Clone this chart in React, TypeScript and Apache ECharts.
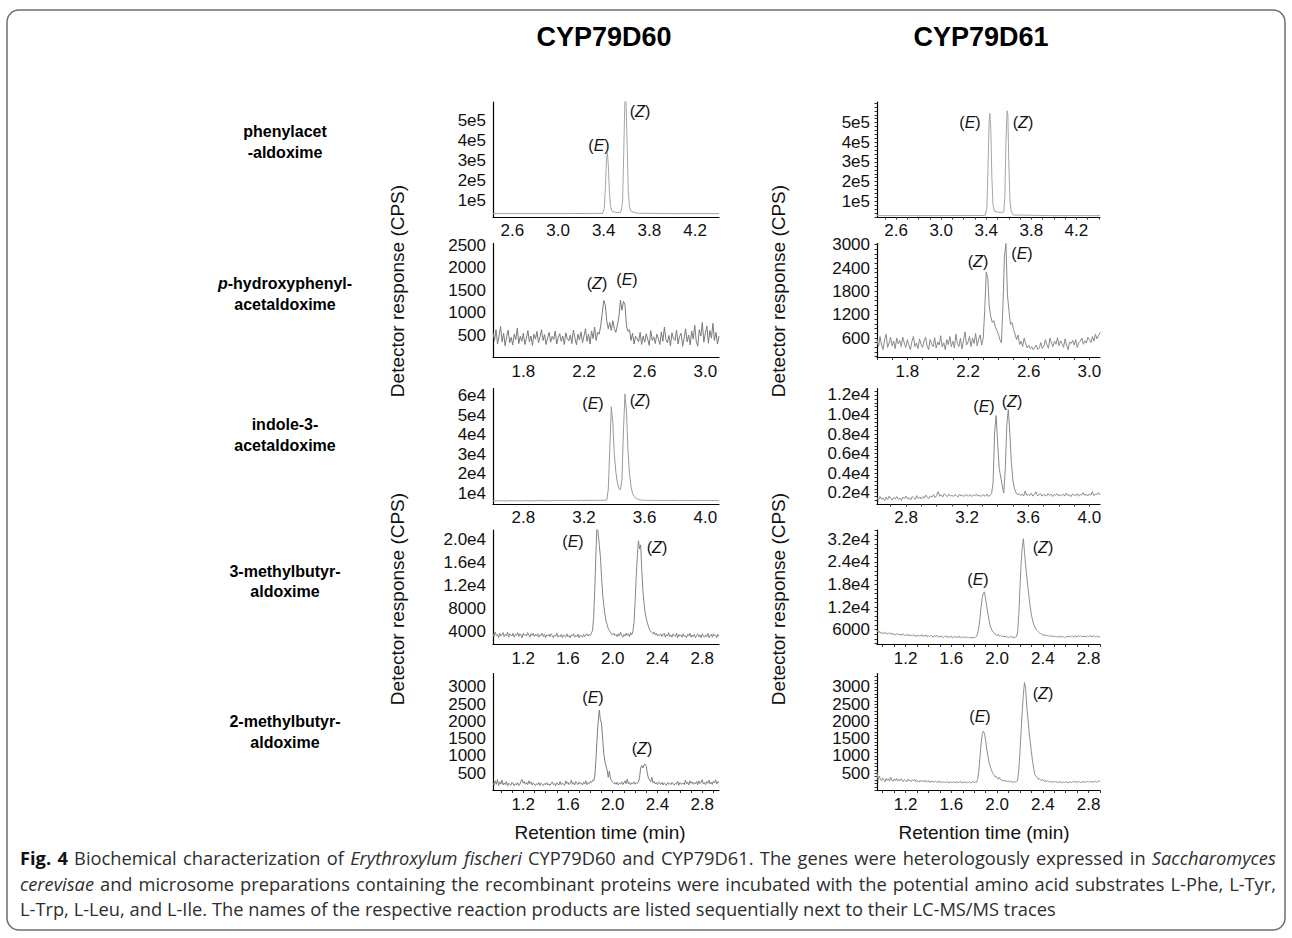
import React, { useEffect, useRef } from "react";
import * as echarts from "echarts";

const FONT = "'Liberation Sans', Arial, Helvetica, sans-serif";
const CAP_FAMILY = "'Open Sans'";
const CAP_SIZE = 17.5;
const CAP_STRETCH = 1.045;

// ---------- tick labels ----------
const X_TICKS_PHE = [2.6, 3.0, 3.4, 3.8, 4.2];
const X_TICKS_TYR = [1.8, 2.2, 2.6, 3.0];
const X_TICKS_TRP = [2.8, 3.2, 3.6, 4.0];
const X_TICKS_LEU = [1.2, 1.6, 2.0, 2.4, 2.8];

const Y_VALUES_PHE = [100000, 200000, 300000, 400000, 500000];
const Y_LABELS_PHE = ["1e5", "2e5", "3e5", "4e5", "5e5"];
const Y_VALUES_TYR60 = [500, 1000, 1500, 2000, 2500];
const Y_LABELS_TYR60 = ["500", "1000", "1500", "2000", "2500"];
const Y_VALUES_TYR61 = [600, 1200, 1800, 2400, 3000];
const Y_LABELS_TYR61 = ["600", "1200", "1800", "2400", "3000"];
const Y_VALUES_TRP60 = [10000, 20000, 30000, 40000, 50000, 60000];
const Y_LABELS_TRP60 = ["1e4", "2e4", "3e4", "4e4", "5e4", "6e4"];
const Y_VALUES_TRP61 = [2000, 4000, 6000, 8000, 10000, 12000];
const Y_LABELS_TRP61 = ["0.2e4", "0.4e4", "0.6e4", "0.8e4", "1.0e4", "1.2e4"];
const Y_VALUES_LEU60 = [4000, 8000, 12000, 16000, 20000];
const Y_LABELS_LEU60 = ["4000", "8000", "1.2e4", "1.6e4", "2.0e4"];
const Y_VALUES_LEU61 = [6000, 12000, 18000, 24000, 30000];
const Y_LABELS_LEU61 = ["6000", "1.2e4", "1.8e4", "2.4e4", "3.2e4"];
const Y_VALUES_ILE = [500, 1000, 1500, 2000, 2500, 3000];
const Y_LABELS_ILE = ["500", "1000", "1500", "2000", "2500", "3000"];

// ---------- traces ----------
// phenylacetaldoxime (explicit time / intensity pairs)
const PHE60_T = [2.43, 3.0, 3.39, 3.405, 3.415, 3.425, 3.432, 3.44, 3.45, 3.46, 3.475, 3.52, 3.55, 3.565, 3.575, 3.585, 3.595, 3.605, 3.615, 3.625, 3.64, 3.7, 4.0, 4.41];
const PHE60_Y = [35000, 35000, 36000, 60000, 170000, 310000, 340000, 280000, 140000, 70000, 45000, 40000, 42000, 90000, 330000, 600000, 620000, 380000, 150000, 70000, 45000, 37000, 35000, 35000];
const PHE61_T = [2.43, 3.0, 3.39, 3.405, 3.415, 3.425, 3.432, 3.44, 3.45, 3.46, 3.475, 3.52, 3.555, 3.565, 3.575, 3.585, 3.592, 3.6, 3.61, 3.62, 3.64, 4.0, 4.41];
const PHE61_Y = [27000, 27000, 28000, 60000, 250000, 500000, 547000, 470000, 220000, 80000, 48000, 43000, 45000, 120000, 400000, 560000, 540000, 300000, 110000, 50000, 30000, 27000, 27000];

// sampled traces: first time, sampling step (min), intensities
const TYR60_START = 1.6, TYR60_STEP = 0.01;
const TYR60_Y = [560, 380, 620, 300, 480, 690, 350, 540, 260, 470,
  610, 330, 450, 280, 520, 400, 650, 310, 470, 360,
  540, 290, 430, 600, 350, 480, 270, 520, 410, 580,
  330, 460, 620, 380, 510, 290, 440, 560, 340, 470,
  400, 590, 300, 450, 530, 360, 480, 290, 550, 420,
  370, 500, 310, 610, 440, 280, 520, 390, 570, 330,
  480, 640, 360, 520, 300, 590, 420, 680, 380, 560,
  520, 700, 980, 1270, 1180, 820, 640, 780, 600, 820,
  650, 560, 720, 900, 1280, 1050, 1250, 1180, 700, 580,
  620, 380, 540, 300, 470, 420, 350, 560, 290, 480,
  340, 530, 410, 270, 600, 380, 460, 310, 520, 420,
  290, 570, 360, 680, 400, 330, 490, 260, 550, 420,
  380, 610, 300, 470, 540, 250, 430, 640, 350, 500,
  280, 590, 410, 720, 360, 250, 620, 480, 780, 340,
  540, 700, 320, 600, 430, 760, 380, 560, 300, 480];

const TYR61_START = 1.6, TYR61_STEP = 0.01;
const TYR61_Y = [560, 380, 640, 420, 300, 560, 700, 360, 480, 620,
  400, 520, 330, 600, 450, 540, 380, 620, 470, 360,
  560, 420, 300, 510, 640, 380, 470, 330, 580, 440,
  360, 520, 620, 400, 300, 560, 450, 380, 610, 340,
  500, 420, 660, 370, 480, 300, 560, 430, 640, 380,
  520, 350, 700, 460, 380, 600, 320, 540, 760, 420,
  500, 640, 380, 600, 460, 720, 400, 560, 680, 420,
  600, 1300, 2300, 2150, 1400, 1150, 1000, 1050, 880, 800,
  700, 560, 480, 1400, 2700, 3030, 1700, 1300, 950, 1000,
  820, 700, 560, 680, 430, 520, 380, 600, 460, 350,
  420, 330, 380, 300, 360, 420, 310, 350, 480, 330,
  390, 560, 420, 340, 600, 470, 380, 520, 440, 610,
  400, 530, 460, 360, 580, 420, 300, 500, 460, 540,
  420, 560, 360, 480, 520, 600, 440, 530, 470, 620,
  560, 480, 640, 520, 700, 580, 660, 740];

const TRP60_START = 2.6, TRP60_STEP = 0.01;
const TRP60_Y = [6100, 6300, 6000, 6200, 6100, 6350, 6050, 6200, 6150, 6000,
  6200, 6100, 6300, 6050, 6250, 6150, 6000, 6300, 6100, 6200,
  6050, 6250, 6150, 6300, 6100, 6200, 6000, 6250, 6150, 6350,
  6200, 6100, 6300, 6200, 6050, 6250, 6150, 6300, 6100, 6250,
  6350, 6200, 6400, 6150, 6300, 6250, 6450, 6200, 6350, 6300,
  6150, 6400, 6250, 6350, 6200, 6450, 6300, 6250, 6400, 6350,
  6200, 6450, 6300, 6350, 6250, 6500, 6350, 6300, 6450, 6400,
  6300, 6450, 6350, 6500, 6400, 6600, 12000, 33000, 54400, 46000,
  30000, 21000, 15500, 12500, 11700, 17000, 42000, 61000, 52000, 32000,
  20000, 13500, 10000, 8500, 7600, 7100, 6800, 6600, 6500, 6450,
  6400, 6350, 6450, 6300, 6400, 6350, 6250, 6400, 6300, 6350,
  6300, 6400, 6250, 6350, 6300, 6200, 6350, 6300, 6250, 6400,
  6250, 6350, 6200, 6300, 6400, 6250, 6300, 6200, 6350, 6300,
  6200, 6350, 6250, 6300, 6150, 6300, 6250, 6400, 6200, 6300,
  6250, 6350, 6200, 6300, 6400, 6250, 6300, 6350, 6200, 6300];

const TRP61_START = 2.61, TRP61_STEP = 0.01;
const TRP61_Y = [1500, 1250, 1600, 1350, 1450, 1200, 1550, 1300, 1650, 1400,
  1250, 1500, 1350, 1600, 1300, 1450, 1200, 1550, 1400, 1650,
  1350, 1500, 1250, 1600, 1450, 1300, 1700, 1400, 1550, 1350,
  1600, 1450, 1750, 1500, 1400, 1650, 1550, 1800, 1500, 1700,
  2100, 1650, 1800, 1550, 1900, 1700, 1600, 1850, 1650, 1750,
  1600, 1800, 1700, 1550, 1850, 1650, 1750, 1600, 1800, 1700,
  1650, 1800, 1600, 1750, 1700, 1850, 1650, 1750, 1600, 1800,
  1700, 1650, 1850, 1600, 1750, 1900, 3000, 8200, 9900, 7000,
  4500, 3600, 2700, 1950, 4500, 9000, 10500, 8000, 5000, 3200,
  2400, 2000, 1800, 1900, 1700, 1850, 1650, 2150, 1750, 1800,
  1700, 1950, 1650, 1800, 2100, 1700, 1750, 1900, 1650, 1800,
  1750, 1650, 1900, 1700, 1850, 1600, 1800, 1750, 1900, 1650,
  1800, 1700, 1850, 1650, 1950, 1700, 1800, 1600, 1850, 1750,
  1700, 1900, 1650, 1800, 1750, 2000, 1700, 1850, 1650, 1900,
  1750, 2100, 1700, 1850, 1800, 2000, 1750];

const LEU60_START = 0.93, LEU60_STEP = 0.01;
const LEU60_Y = [3600, 3100, 3900, 3300, 3500, 2900, 3700, 3200, 3400, 3800,
  3100, 3500, 3300, 3900, 3000, 3600, 3400, 3200, 3700, 3000,
  3500, 3300, 3800, 3100, 3600, 3400, 2900, 3700, 3300, 3500,
  3200, 3800, 3400, 3000, 3600, 3300, 3700, 3100, 3500, 3200,
  3600, 3000, 3400, 3300, 3700, 3100, 3500, 2900, 3400, 3200,
  3500, 3100, 3600, 3300, 2900, 3400, 3200, 3700, 3000, 3300,
  3100, 3500, 2900, 3400, 3200, 3000, 3600, 3100, 3300, 2900,
  3400, 3200, 3600, 3000, 3300, 3100, 3500, 2900, 3400, 3200,
  3000, 3500, 3100, 3400, 3600, 3200, 3500, 3300, 3700, 4200,
  6500, 11500, 17500, 23000, 21000, 19000, 17000, 13500, 10500, 8600,
  7000, 5800, 5200, 4500, 4100, 3800, 3500, 3400, 3700, 3300,
  3500, 3100, 3600, 3200, 3900, 3300, 3000, 3500, 3200, 3700,
  3300, 3600, 3100, 3800, 3400, 4000, 5500, 9000, 13500, 17000,
  19700, 18300, 19000, 14500, 11000, 8900, 7200, 6200, 5500, 4800,
  4300, 4000, 3800, 3600, 3900, 3400, 3700, 3200, 3500, 3300,
  3600, 3100, 3400, 3700, 3000, 3500, 3200, 3800, 3100, 3400,
  3000, 3600, 3300, 3100, 3700, 2900, 3500, 3200, 3400, 3000,
  3600, 3100, 3300, 2900, 3500, 3200, 3700, 3000, 3400, 3100,
  3500, 2900, 3300, 3600, 3100, 3400, 2900, 3600, 3200, 3000,
  3400, 3100, 3700, 2900, 3300, 3500, 3000, 3600, 3200, 3400,
  2900, 3500, 3200];

const LEU61_START = 0.95, LEU61_STEP = 0.01;
const LEU61_Y = [5800, 5300, 5600, 5100, 5400, 4900, 5200, 5000, 5300, 4800,
  5100, 4900, 5200, 4700, 5000, 4800, 4600, 5000, 4700, 4900,
  4600, 4800, 4500, 4900, 4600, 4400, 4800, 4500, 4700, 4300,
  4600, 4400, 4700, 4300, 4500, 4200, 4600, 4400, 4300, 4700,
  4200, 4500, 4300, 4600, 4100, 4400, 4200, 4500, 4300, 4000,
  4400, 4200, 4600, 4100, 4300, 4000, 4400, 4200, 3900, 4300,
  4100, 4400, 3900, 4200, 4000, 4300, 3800, 4100, 4200, 3900,
  4200, 4000, 4300, 3800, 4100, 3900, 4200, 4000, 3800, 4100,
  3900, 4000, 3700, 4100, 3800, 3900, 4000, 4200, 5000, 6500,
  9000, 12000, 14500, 15800, 16000, 14200, 12000, 10200, 8500, 7000,
  6200, 5600, 5200, 4900, 4700, 4500, 4800, 4300, 4500, 4200,
  4400, 4100, 4300, 4000, 4200, 3900, 4100, 4300, 3900, 4100,
  3900, 4000, 4200, 5500, 10000, 17000, 23500, 28000, 30200, 26500,
  23000, 20000, 17200, 14500, 12000, 10000, 8600, 7500, 6700, 6100,
  5800, 5500, 5200, 5000, 4800, 4700, 4500, 4600, 4400, 4500,
  4300, 4500, 4200, 4400, 4100, 4300, 4200, 4000, 4300, 4100,
  4200, 4000, 4300, 4100, 3900, 4200, 4000, 4300, 4100, 4400,
  4100, 4300, 4000, 4400, 4200, 4100, 4500, 4200, 4400, 4100,
  4300, 4100, 4400, 4000, 4300, 4200, 4500, 4100, 4300, 4200,
  4400, 4100, 4300, 4200, 4000, 4300];

const ILE60_START = 0.93, ILE60_STEP = 0.01;
const ILE60_Y = [230, 150, 280, 180, 320, 140, 250, 190, 300, 160,
  220, 170, 260, 130, 210, 180, 150, 240, 190, 140,
  200, 160, 230, 140, 180, 270, 320, 210, 260, 180,
  230, 170, 280, 200, 250, 160, 220, 190, 140, 200,
  170, 230, 150, 210, 180, 140, 200, 170, 230, 160,
  190, 150, 210, 250, 170, 200, 140, 230, 180, 160,
  260, 170, 220, 190, 150, 280, 200, 240, 170, 210,
  300, 180, 230, 160, 260, 200, 170, 250, 190, 220,
  160, 240, 190, 280, 170, 230, 200, 260, 230, 300,
  280, 420, 900, 1500, 2000, 2330, 2050, 1950, 1500, 1080,
  850, 700, 600, 380, 560, 350, 280, 240, 200, 230,
  180, 240, 160, 210, 190, 250, 170, 220, 280, 200,
  330, 190, 240, 170, 220, 200, 250, 180, 230, 210,
  240, 380, 650, 720, 650, 740, 760, 700, 480, 360,
  300, 250, 380, 220, 260, 190, 230, 170, 250, 200,
  180, 240, 160, 220, 190, 150, 230, 180, 210, 170,
  240, 190, 160, 210, 180, 270, 150, 230, 200, 180,
  220, 170, 300, 190, 240, 160, 280, 210, 250, 180,
  230, 190, 260, 170, 280, 200, 240, 310, 190, 230,
  170, 260, 210, 300, 190, 240, 180, 270, 220, 310,
  190, 250, 230];

const ILE61_START = 0.95, ILE61_STEP = 0.01;
const ILE61_Y = [520, 300, 420, 330, 280, 360, 310, 250, 350, 290,
  340, 270, 380, 300, 260, 330, 290, 350, 270, 320,
  280, 340, 300, 260, 320, 290, 250, 330, 280, 300,
  260, 310, 280, 330, 250, 290, 270, 240, 300, 260,
  280, 250, 300, 240, 270, 290, 230, 280, 250, 260,
  240, 270, 250, 230, 280, 240, 260, 220, 250, 240,
  230, 260, 240, 220, 250, 230, 240, 260, 220, 240,
  250, 230, 240, 270, 220, 240, 230, 250, 220, 240,
  230, 250, 220, 240, 260, 230, 250, 240, 320, 550,
  950, 1350, 1620, 1720, 1650, 1450, 1200, 1000, 800, 700,
  600, 520, 460, 400, 420, 360, 330, 380, 320, 300,
  280, 310, 260, 290, 250, 280, 240, 270, 250, 230,
  260, 240, 250, 300, 600, 1100, 1700, 2300, 2800, 3130,
  2950, 2400, 2080, 1700, 1400, 1130, 850, 640, 460, 420,
  380, 330, 350, 300, 290, 320, 270, 280, 260, 290,
  250, 270, 240, 260, 250, 230, 270, 240, 250, 230,
  260, 240, 220, 250, 230, 260, 240, 220, 250, 240,
  230, 260, 240, 270, 230, 250, 240, 260, 230, 250,
  240, 270, 230, 250, 260, 240, 270, 250, 240, 260,
  250, 270, 240, 260, 280, 260];

// ---------- texts ----------
const COLUMN_TITLES = ["CYP79D60", "CYP79D61"];
const ROW_LABELS: string[][] = [
  ["phenylacet", "-aldoxime"],
  ["{bi|p}{b|-hydroxyphenyl-}", "acetaldoxime"],
  ["indole-3-", "acetaldoxime"],
  ["3-methylbutyr-", "aldoxime"],
  ["2-methylbutyr-", "aldoxime"],
];
const Y_TITLE = "Detector response (CPS)";
const X_TITLE = "Retention time (min)";
const CAPTION_LINES = [
  "**Fig. **4 Biochemical characterization of _Erythroxylum _fischeri CYP79D60 and CYP79D61. The genes were heterologously expressed in _Saccharomyces",
  "_cerevisae and microsome preparations containing the recombinant proteins were incubated with the potential amino acid substrates L-Phe, L-Tyr,",
  "L-Trp, L-Leu, and L-Ile. The names of the respective reaction products are listed sequentially next to their LC-MS/MS traces",
];

function sampled(start: number, step: number, ys: number[]) {
  return ys.map((y, i) => [+(start + i * step).toFixed(4), y]);
}
function paired(ts: number[], ys: number[]) {
  return ts.map((t, i) => [t, ys[i]]);
}
function stepValues(min: number, max: number, step: number) {
  const out: number[] = [];
  let k = Math.ceil(min / step - 1e-9);
  while (k * step <= max + 1e-9) {
    out.push(+(k * step).toFixed(6));
    k++;
  }
  return out;
}

type Panel = {
  col: number; row: number;
  xRange: [number, number]; xTicks: number[];
  yRange: [number, number]; yValues: number[]; yLabels: string[];
  data: number[][]; color: string;
  xMinor?: number; yMinor?: number;
  marks: { k: string; x: number; y: number }[];
};

const GRID_COLS = [{ left: 493, width: 226 }, { left: 877, width: 223 }];
const GRID_ROWS = [
  { top: 102, height: 115 },
  { top: 243.5, height: 114 },
  { top: 388.5, height: 115.5 },
  { top: 530, height: 114.5 },
  { top: 673.5, height: 117 },
];

const PANELS: Panel[] = [
  { col: 0, row: 0, xRange: [2.43, 4.41], xTicks: X_TICKS_PHE, yRange: [18000, 593000], yValues: Y_VALUES_PHE, yLabels: Y_LABELS_PHE,
    data: paired(PHE60_T, PHE60_Y), color: "#a6a6a6", marks: [{ k: "E", x: 599, y: 145 }, { k: "Z", x: 640, y: 111 }] },
  { col: 1, row: 0, xRange: [2.43, 4.41], xTicks: X_TICKS_PHE, yRange: [20000, 605000], yValues: Y_VALUES_PHE, yLabels: Y_LABELS_PHE,
    data: paired(PHE61_T, PHE61_Y), color: "#a6a6a6", xMinor: 0.1, yMinor: 20000, marks: [{ k: "E", x: 970, y: 122 }, { k: "Z", x: 1023, y: 122 }] },
  { col: 0, row: 1, xRange: [1.6, 3.09], xTicks: X_TICKS_TYR, yRange: [0, 2540], yValues: Y_VALUES_TYR60, yLabels: Y_LABELS_TYR60,
    data: sampled(TYR60_START, TYR60_STEP, TYR60_Y), color: "#7a7a7a", marks: [{ k: "Z", x: 597, y: 283 }, { k: "E", x: 627, y: 279 }] },
  { col: 1, row: 1, xRange: [1.6, 3.07], xTicks: X_TICKS_TYR, yRange: [100, 3030], yValues: Y_VALUES_TYR61, yLabels: Y_LABELS_TYR61,
    data: sampled(TYR61_START, TYR61_STEP, TYR61_Y), color: "#8a8a8a", xMinor: 0.1, yMinor: 120, marks: [{ k: "Z", x: 978, y: 261 }, { k: "E", x: 1022, y: 253 }] },
  { col: 0, row: 2, xRange: [2.6, 4.09], xTicks: X_TICKS_TRP, yRange: [4500, 63800], yValues: Y_VALUES_TRP60, yLabels: Y_LABELS_TRP60,
    data: sampled(TRP60_START, TRP60_STEP, TRP60_Y), color: "#9a9a9a", marks: [{ k: "E", x: 593, y: 403 }, { k: "Z", x: 640, y: 400 }] },
  { col: 1, row: 2, xRange: [2.61, 4.07], xTicks: X_TICKS_TRP, yRange: [840, 12660], yValues: Y_VALUES_TRP61, yLabels: Y_LABELS_TRP61,
    data: sampled(TRP61_START, TRP61_STEP, TRP61_Y), color: "#8a8a8a", xMinor: 0.1, yMinor: 400, marks: [{ k: "E", x: 984, y: 406 }, { k: "Z", x: 1012, y: 401 }] },
  { col: 0, row: 3, xRange: [0.93, 2.95], xTicks: X_TICKS_LEU, yRange: [1740, 21565], yValues: Y_VALUES_LEU60, yLabels: Y_LABELS_LEU60,
    data: sampled(LEU60_START, LEU60_STEP, LEU60_Y), color: "#858585", marks: [{ k: "E", x: 573, y: 541 }, { k: "Z", x: 657, y: 547 }] },
  { col: 1, row: 3, xRange: [0.95, 2.9], xTicks: X_TICKS_LEU, yRange: [2080, 32500], yValues: Y_VALUES_LEU61, yLabels: Y_LABELS_LEU61,
    data: sampled(LEU61_START, LEU61_STEP, LEU61_Y), color: "#8f8f8f", xMinor: 0.1, yMinor: 1200, marks: [{ k: "E", x: 978, y: 579 }, { k: "Z", x: 1043, y: 547 }] },
  { col: 0, row: 4, xRange: [0.93, 2.95], xTicks: X_TICKS_LEU, yRange: [0, 3390], yValues: Y_VALUES_ILE, yLabels: Y_LABELS_ILE,
    data: sampled(ILE60_START, ILE60_STEP, ILE60_Y), color: "#7f7f7f", xMinor: 0.1, marks: [{ k: "E", x: 593, y: 697 }, { k: "Z", x: 642, y: 748 }] },
  { col: 1, row: 4, xRange: [0.95, 2.9], xTicks: X_TICKS_LEU, yRange: [0, 3390], yValues: Y_VALUES_ILE, yLabels: Y_LABELS_ILE,
    data: sampled(ILE61_START, ILE61_STEP, ILE61_Y), color: "#8f8f8f", xMinor: 0.1, yMinor: 100, marks: [{ k: "E", x: 980, y: 716 }, { k: "Z", x: 1043, y: 693 }] },
];

function buildCaption(): any[] {
  const canvas = document.createElement("canvas");
  const ctx = canvas.getContext("2d") as CanvasRenderingContext2D;
  const out: any[] = [];
  const x0 = 20, x1 = 1276;
  const ys = [858, 884, 909];
  CAPTION_LINES.forEach((line, li) => {
    const raw = line.split(" ").map((w) => {
      let bold = false, italic = false, text = w;
      if (text.startsWith("**")) { bold = true; text = text.slice(2); }
      if (text.startsWith("_")) { italic = true; text = text.slice(1); }
      const font = `${italic ? "italic " : ""}${bold ? "bold " : ""}${CAP_SIZE}px ${CAP_FAMILY}`;
      ctx.font = font;
      return { text, bold, italic, w: ctx.measureText(text).width };
    });
    ctx.font = `${CAP_SIZE}px ${CAP_FAMILY}`;
    const space = ctx.measureText(" ").width;
    const natural = raw.reduce((s, w) => s + w.w, 0) + space * (raw.length - 1);
    // never let a line run past the right margin
    const sx = Math.min(CAP_STRETCH, (x1 - x0) / natural);
    const total = raw.reduce((s, w) => s + w.w * sx, 0);
    const justify = li < CAPTION_LINES.length - 1;
    const gap = justify ? Math.max(space * sx, (x1 - x0 - total) / (raw.length - 1)) : space * sx;
    let x = x0;
    raw.forEach((w) => {
      out.push({
        type: "text", x, y: ys[li], scaleX: sx, silent: true,
        style: {
          text: w.text, fill: w.bold ? "#111" : "#2e2e2e", fontFamily: CAP_FAMILY, fontSize: CAP_SIZE,
          fontWeight: w.bold ? "bold" : "normal", fontStyle: w.italic ? "italic" : "normal",
          align: "left", verticalAlign: "middle",
        },
      });
      x += w.w * sx + gap;
    });
  });
  return out;
}

export default function App() {
  const ref = useRef<HTMLDivElement>(null);
  useEffect(() => {
    const el = ref.current as HTMLDivElement;
    const chart = echarts.init(el, undefined, { renderer: "svg" });

    const grids: any[] = [], xAxes: any[] = [], yAxes: any[] = [], series: any[] = [];
    PANELS.forEach((p, i) => {
      const g = GRID_COLS[p.col], r = GRID_ROWS[p.row];
      grids.push({ left: g.left, top: r.top, width: g.width, height: r.height, containLabel: false, outerBoundsMode: "none" });
      xAxes.push({
        type: "value", gridIndex: i, min: p.xRange[0], max: p.xRange[1],
        axisLine: { show: true, onZero: false, lineStyle: { color: "#000", width: 1.2 } },
        axisTick: p.xMinor
          ? { show: true, customValues: stepValues(p.xRange[0], p.xRange[1], p.xMinor), length: 2.5, lineStyle: { color: "#333", width: 1 } }
          : { show: false },
        axisLabel: {
          customValues: p.xTicks, formatter: (v: number) => v.toFixed(1),
          fontSize: 17, fontFamily: FONT, color: "#111", margin: 5,
        },
        splitLine: { show: false },
      });
      yAxes.push({
        type: "value", gridIndex: i, min: p.yRange[0], max: p.yRange[1],
        axisLine: { show: true, onZero: false, lineStyle: { color: "#000", width: 1.2 } },
        axisTick: p.yMinor
          ? { show: true, customValues: stepValues(p.yRange[0], p.yRange[1], p.yMinor), length: 2.5, lineStyle: { color: "#333", width: 1 } }
          : { show: false },
        axisLabel: {
          customValues: p.yValues,
          formatter: (v: number) => {
            const k = p.yValues.findIndex((u) => Math.abs(u - v) < 1e-6 * Math.max(1, Math.abs(u)));
            return k >= 0 ? p.yLabels[k] : "";
          },
          fontSize: 17, fontFamily: FONT, color: "#111", margin: 7,
        },
        splitLine: { show: false },
      });
      series.push({
        type: "line", xAxisIndex: i, yAxisIndex: i, data: p.data, showSymbol: false, symbol: "none",
        lineStyle: { color: p.color, width: 1 }, clip: true, silent: true, animation: false,
      });
    });

    const graphics: any[] = [];
    graphics.push({
      type: "rect", z: -10, silent: true,
      shape: { x: 7, y: 10, width: 1278, height: 920, r: 12 },
      style: { fill: "none", stroke: "#6f6f6f", lineWidth: 1.5 },
    });
    // column titles
    [604, 981].forEach((cx, i) => {
      graphics.push({
        type: "text", x: cx, y: 37, silent: true,
        style: { text: COLUMN_TITLES[i], fontFamily: FONT, fontSize: 27, fontWeight: "bold", fill: "#000", align: "center", verticalAlign: "middle" },
      });
    });
    // row labels
    const rowY = [[131, 152], [283, 304], [424, 445], [571, 591], [721, 742]];
    ROW_LABELS.forEach((lines, r) => {
      lines.forEach((t, j) => {
        graphics.push({
          type: "text", x: 285, y: rowY[r][j], silent: true,
          style: {
            text: t, fontFamily: FONT, fontSize: 16, fontWeight: "bold", fill: "#000", align: "center", verticalAlign: "middle",
            rich: {
              b: { fontFamily: FONT, fontSize: 16, fontWeight: "bold", fill: "#000" },
              bi: { fontFamily: FONT, fontSize: 16, fontWeight: "bold", fontStyle: "italic", fill: "#000" },
            },
          },
        });
      });
    });
    // y titles
    [397, 778].forEach((x) => {
      [291, 599].forEach((y) => {
        graphics.push({
          type: "text", x, y, rotation: Math.PI / 2, silent: true,
          style: { text: Y_TITLE, fontFamily: FONT, fontSize: 19, fill: "#111", align: "center", verticalAlign: "middle" },
        });
      });
    });
    // x titles
    [600, 984].forEach((x) => {
      graphics.push({
        type: "text", x, y: 832, silent: true,
        style: { text: X_TITLE, fontFamily: FONT, fontSize: 19, fill: "#111", align: "center", verticalAlign: "middle" },
      });
    });
    // peak annotations
    PANELS.forEach((p) => {
      p.marks.forEach((m) => {
        graphics.push({
          type: "text", x: m.x, y: m.y, silent: true,
          style: {
            text: `{n|(}{i|${m.k}}{n|)}`, align: "center", verticalAlign: "middle",
            fontFamily: FONT, fontSize: 16, fill: "#111",
            rich: {
              n: { fontFamily: FONT, fontSize: 16, fill: "#111" },
              i: { fontFamily: FONT, fontSize: 16, fontStyle: "italic", fill: "#111" },
            },
          },
        });
      });
    });
    buildCaption().forEach((g) => graphics.push(g));

    chart.setOption({
      animation: false,
      backgroundColor: "#fff",
      grid: grids,
      xAxis: xAxes,
      yAxis: yAxes,
      series,
      graphic: { elements: graphics },
    });
    return () => chart.dispose();
  }, []);
  return (
    <div
      ref={ref}
      style={{ position: "fixed", left: 0, top: 0, width: 1292, height: 938, background: "#fff" }}
    />
  );
}
